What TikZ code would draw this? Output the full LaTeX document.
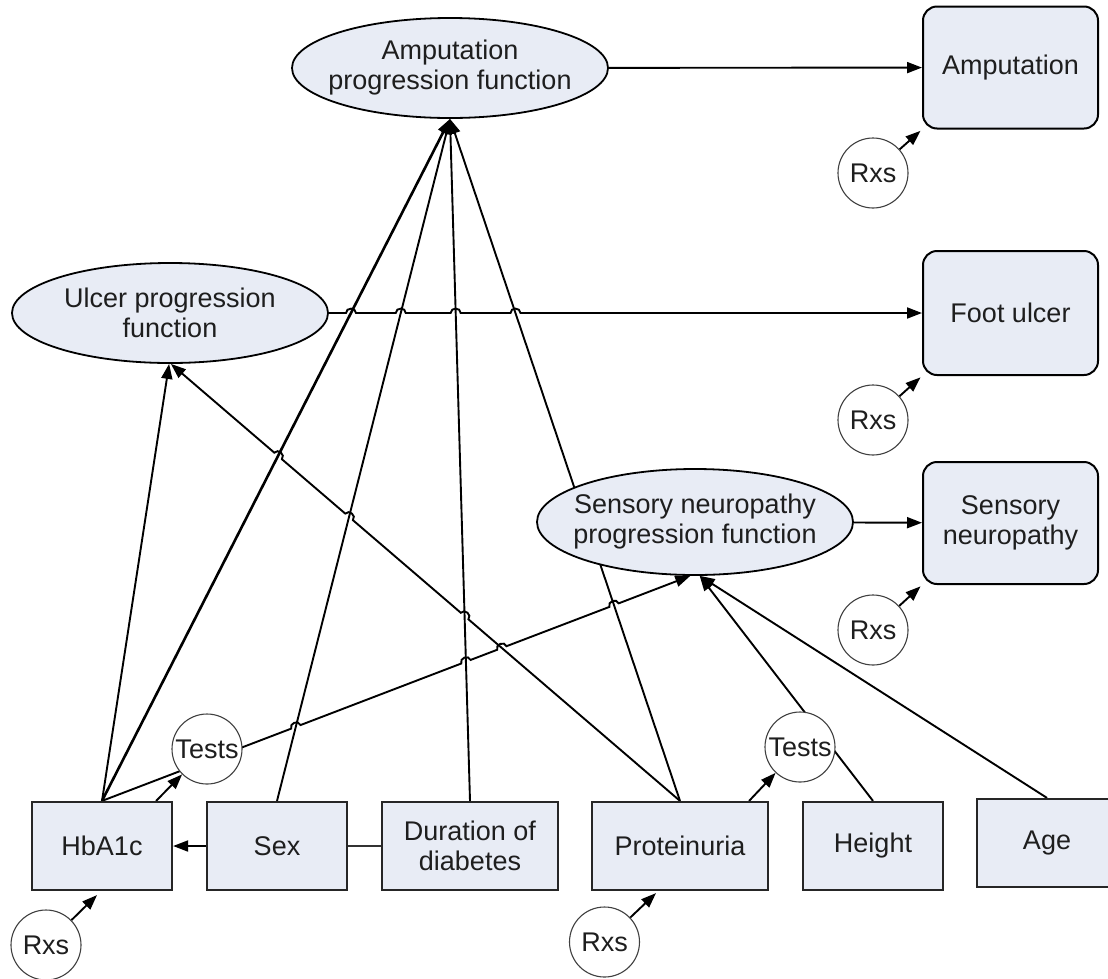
\documentclass[tikz,border=0pt]{standalone}
\usepackage{fontspec}
\setmainfont{Liberation Sans}
\usetikzlibrary{shapes.geometric,arrows.meta,calc}
\pgfdeclarelayer{paper}
\pgfdeclarelayer{links}
\pgfsetlayers{paper,links,main}
\definecolor{nodefill}{RGB}{232,236,245}
\definecolor{ink}{RGB}{30,30,30}
% zero-width centred line, so the text does not set the shape size
\newcommand\zline[1]{\makebox[0pt]{#1}}
\begin{document}
\begin{tikzpicture}[x=1pt,y=-1pt,
  every node/.style={font=\fontsize{27}{30}\selectfont, text=ink, inner sep=0pt},
  fn/.style={ellipse, draw=black, line width=1.8pt, fill=nodefill,
    minimum width=316pt, minimum height=100pt, align=center},
  outcome/.style={rectangle, rounded corners=14pt, draw=black, line width=2pt,
    fill=nodefill, minimum width=175pt, minimum height=122pt, align=center},
  factor/.style={rectangle, draw=black!85, line width=2.2pt, fill=nodefill,
    minimum width=140pt, minimum height=88pt, align=center},
  bubble/.style={circle, draw=black!75, line width=1.1pt, fill=white, minimum size=70pt},
  link/.style={line width=1.9pt, draw=black},
  thinlink/.style={line width=1.1pt, draw=black!80},
  arr/.style={link, -{Triangle[length=15pt,width=11pt]}},
  hopup/.style={bend left=90, looseness=1.5},
  hopdown/.style={bend right=90, looseness=1.5}
]
\useasboundingbox (0,0) rectangle (1108,978);
\clip (0,0) rectangle (1108,978);
\begin{pgfonlayer}{paper}
  \fill[white] (0,0) rectangle (1108,978);
\end{pgfonlayer}

% progression functions
\node[fn] (apf) at (450,68) {\zline{Amputation}\\\zline{progression function}};
\node[fn] (upf) at (170,313) {\zline{Ulcer progression}\\\zline{function}};
\node[fn, minimum height=106pt] (snpf) at (695,522) {\zline{Sensory neuropathy}\\\zline{progression function}};

% outcomes
\node[outcome] (amp) at (1010.5,67.5) {Amputation};
\node[outcome, minimum height=124pt] (foot) at (1010.5,313) {Foot ulcer};
\node[outcome] (sn) at (1010.5,523) {Sensory\\neuropathy};

% risk factors
\node[factor] (hba) at (102,846) {HbA1c};
\node[factor] (sex) at (277,846) {Sex};
\node[factor, minimum width=176pt] (dur) at (470,846) {Duration of\\diabetes};
\node[factor, minimum width=176pt] (prot) at (680,846) {Proteinuria};
\node[factor] (hgt) at (873,846) {Height};
\node[factor] (age) at (1047,843) {Age};

% treatments and tests
\node[bubble] (rx1) at (873,173) {\zline{Rxs}};
\node[bubble] (rx2) at (873,420) {\zline{Rxs}};
\node[bubble] (rx3) at (873,630) {\zline{Rxs}};
\node[bubble] (rx4) at (46,945) {\zline{Rxs}};
\node[bubble] (rx5) at (604.5,942) {\zline{Rxs}};
\node[bubble] (t1) at (207,749) {\zline{Tests}};
\node[bubble] (t2) at (800,747) {\zline{Tests}};

\begin{pgfonlayer}{links}
  \coordinate (hbaN) at (hba.north);
  \coordinate (sexN) at (sex.north);
  \coordinate (durN) at (dur.north);
  \coordinate (protN) at (prot.north);
  \coordinate (apfS) at (apf.south);
  \coordinate (upfR) at (upf.east);
  \coordinate (footL) at (foot.west);
  \coordinate (upfIn) at (upf.-89);
  \coordinate (snpfIn) at (snpf.-95);

  % function to outcome
  \draw[arr] (apf) -- (amp);
  \draw[arr] (snpf) -- (sn);

  % treatments
  \draw[arr, shorten >=2pt] (rx1) -- (amp.south west);
  \draw[arr, shorten >=2pt] (rx2) -- (foot.south west);
  \draw[arr, shorten >=2pt] (rx3) -- (sn.south west);
  \draw[arr] (rx4) -- ($(hba.south)+(-5,4)$);
  \draw[arr] (rx5) -- ($(prot.south)+(-24,2)$);

  % tests
  \draw[arr] ($(hba.north east)+(-17,0)$) -- (t1);
  \draw[arr] ($(prot.north east)+(-20,0)$) -- (t2);

  % bottom row
  \draw[arr] (sex) -- (hba);
  \draw[thinlink] (sex) -- (dur);

  % inputs of the amputation function
  \draw[arr, line width=2.6pt] (hbaN) -- (apfS);
  \draw[arr] (sexN) -- (apfS);
  \draw[arr] (durN) -- (apfS);
  \draw[arr] (protN) -- (apfS);

  % inputs of the ulcer function
  \draw[arr] (hbaN) -- (upf.-91);
  \coordinate (d1) at (intersection of protN--upfIn and durN--apfS);
  \coordinate (d2) at (intersection of protN--upfIn and sexN--apfS);
  \coordinate (d3) at (intersection of protN--upfIn and hbaN--apfS);
  \draw[arr] (protN)
    -- ($(d1)!5pt!(protN)$) to[hopdown] ($(d1)!5pt!(upfIn)$)
    -- ($(d2)!5pt!(protN)$) to[hopdown] ($(d2)!5pt!(upfIn)$)
    -- ($(d3)!5pt!(protN)$) to[hopdown] ($(d3)!5pt!(upfIn)$)
    -- (upfIn);

  % ulcer function to foot ulcer
  \coordinate (c1) at (intersection of upfR--footL and hbaN--apfS);
  \coordinate (c2) at (intersection of upfR--footL and sexN--apfS);
  \coordinate (c3) at (intersection of upfR--footL and durN--apfS);
  \coordinate (c4) at (intersection of upfR--footL and protN--apfS);
  \draw[arr] (upfR)
    -- ($(c1)!5pt!(upfR)$) to[hopup] ($(c1)!5pt!(footL)$)
    -- ($(c2)!5pt!(upfR)$) to[hopup] ($(c2)!5pt!(footL)$)
    -- ($(c3)!5pt!(upfR)$) to[hopup] ($(c3)!5pt!(footL)$)
    -- ($(c4)!5pt!(upfR)$) to[hopup] ($(c4)!5pt!(footL)$)
    -- (footL);

  % inputs of the sensory neuropathy function
  \coordinate (e1) at (intersection of hbaN--snpfIn and sexN--apfS);
  \coordinate (e2) at (intersection of hbaN--snpfIn and durN--apfS);
  \coordinate (e3) at (intersection of hbaN--snpfIn and protN--upfIn);
  \coordinate (e4) at (intersection of hbaN--snpfIn and protN--apfS);
  \draw[arr] (hbaN)
    -- ($(e1)!5pt!(hbaN)$) to[hopup] ($(e1)!5pt!(snpfIn)$)
    -- ($(e2)!5pt!(hbaN)$) to[hopup] ($(e2)!5pt!(snpfIn)$)
    -- ($(e3)!5pt!(hbaN)$) to[hopup] ($(e3)!5pt!(snpfIn)$)
    -- ($(e4)!5pt!(hbaN)$) to[hopup] ($(e4)!5pt!(snpfIn)$)
    -- (snpfIn);
  \draw[arr] (hgt.north) -- (snpf.-85);
  \draw[arr] (age.north) -- (snpf.-85);
\end{pgfonlayer}
\end{tikzpicture}
\end{document}
